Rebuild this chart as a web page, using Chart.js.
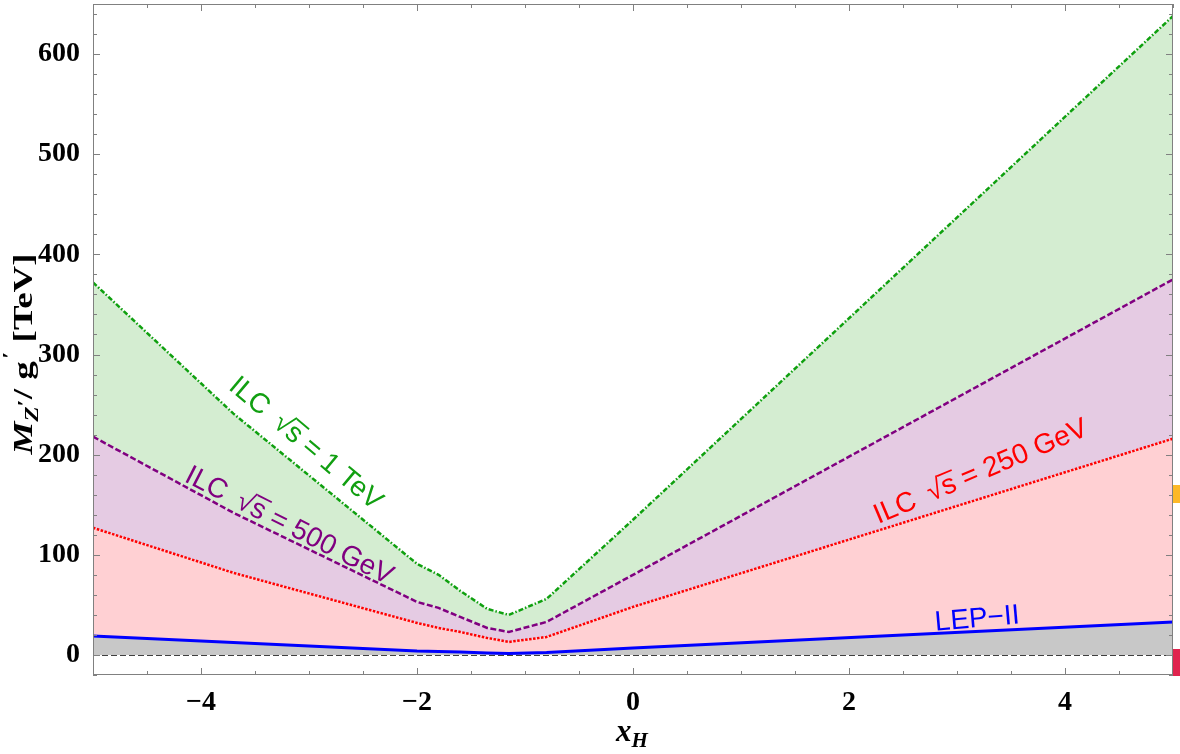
<!DOCTYPE html>
<html><head><meta charset="utf-8">
<script src="https://cdn.jsdelivr.net/npm/chart.js@4.4.1/dist/chart.umd.min.js"></script>
<style>
html,body{margin:0;padding:0;background:#fff;overflow:hidden}
#wrap{position:relative;width:1180px;height:754px}
canvas{display:block}
.blk{position:absolute;left:1173px;width:7px}
</style></head><body>
<div id="wrap"><canvas id="c" width="1180" height="754"></canvas>
<div class="blk" style="top:485px;height:18px;background:#FDB827"></div>
<div class="blk" style="top:649px;height:27px;background:#E0234E"></div>
</div>
<script>
// ---- data ----
const xH        = [-5,  -3.7, -2.0, -1.8, -1.6, -1.35, -1.15, -0.8, 0,   5];
const ilc1TeV   = [372, 241,  91,   80,   64,   46,    40,    56,   135, 638];
const ilc500GeV = [218, 142,  53,   47,   38,   27,    23,    33,   80,  375];
const ilc250GeV = [127, 82,   32,   27,   23,   17,    13,    18,   48,  216];
const lepII     = [19,  12.5, 4,    3.5,  3,    2,     1.5,   2.5,  7,   33];
const zeroX     = [-5, 5];
const zeroY     = [0, 0];
const xTickLabels = [-4, -2, 0, 2, 4];
const yTickLabels = [0, 100, 200, 300, 400, 500, 600];

const pts = (xs, ys) => xs.map((x, i) => ({x, y: ys[i]}));
const fmt = v => (v < 0 ? '\u2212' + Math.abs(v) : String(v));

function sqrtLabel(ctx, cx, cy, ang, color, pre, post, fs) {
  ctx.save();
  ctx.translate(cx, cy); ctx.rotate(ang * Math.PI / 180);
  ctx.font = fs + 'px "Liberation Sans"';
  ctx.fillStyle = color; ctx.strokeStyle = color;
  ctx.textAlign = 'left'; ctx.textBaseline = 'alphabetic';
  const gap = fs * 0.5;
  const wPre = ctx.measureText(pre).width;
  const mR = ctx.measureText('\u221A');
  const wRad = mR.width;
  const wS = ctx.measureText('s').width;
  const wPost = ctx.measureText(post).width;
  const total = wPre + gap + wRad + wS + wPost;
  let x = -total / 2; const by = fs * 0.36;
  ctx.fillText(pre, x, by); x += wPre + gap;
  ctx.fillText('\u221A', x, by);
  const top = by - mR.actualBoundingBoxAscent + fs * 0.03;
  ctx.fillText('s', x + wRad, by);
  ctx.lineWidth = fs * 0.065;
  ctx.beginPath();
  ctx.moveTo(x + mR.actualBoundingBoxRight - fs * 0.03, top);
  ctx.lineTo(x + wRad + wS + fs * 0.06, top);
  ctx.stroke();
  x += wRad + wS;
  ctx.fillText(post, x, by);
  ctx.restore();
}
function plainLabel(ctx, cx, cy, ang, color, txt, fs) {
  ctx.save();
  ctx.translate(cx, cy); ctx.rotate(ang * Math.PI / 180);
  ctx.font = fs + 'px "Liberation Sans"';
  ctx.fillStyle = color; ctx.textAlign = 'center'; ctx.textBaseline = 'alphabetic';
  ctx.fillText(txt, 0, fs * 0.36);
  ctx.restore();
}
function richText(ctx, parts, cx, cy, rot, stretch) {
  ctx.save();
  ctx.translate(cx, cy); if (rot) ctx.rotate(rot);
  ctx.scale(stretch || 1, 1);
  ctx.fillStyle = '#000'; ctx.textAlign = 'left'; ctx.textBaseline = 'alphabetic';
  let w = 0;
  parts.forEach(p => { ctx.font = p.f; p.w = ctx.measureText(p.t).width + (p.sp || 0); w += p.w; });
  let x = -w / 2;
  parts.forEach(p => { ctx.font = p.f; ctx.fillText(p.t, x, p.dy); x += p.w; });
  ctx.restore();
}

const decor = {
  id: 'decor',
  afterDatasetsDraw(chart) {
    const ctx = chart.ctx;
    sqrtLabel(ctx, 307, 442, 40, '#119f11', 'ILC', ' = 1 TeV', 28);
    sqrtLabel(ctx, 290, 524, 27, '#800080', 'ILC', ' = 500 GeV', 28);
    sqrtLabel(ctx, 980, 470, -23, '#ff0000', 'ILC', ' = 250 GeV', 28);
    plainLabel(ctx, 977, 617, -5, '#0000ff', 'LEP\u2212II', 28);
  },
  afterDraw(chart) {
    const ctx = chart.ctx, a = chart.chartArea;
    const xs = chart.scales.x, ys = chart.scales.y;
    ctx.save();
    ctx.strokeStyle = '#808080'; ctx.lineWidth = 1;
    ctx.strokeRect(a.left + 0.5, a.top + 0.5, a.right - a.left - 1, a.bottom - a.top - 1);
    ctx.beginPath();
    for (let v = -20; v <= 640; v += 20) {
      const p = Math.round(ys.getPixelForValue(v)) + 0.5;
      const L = (v % 100 === 0) ? 7 : 4;
      ctx.moveTo(a.left, p); ctx.lineTo(a.left + L, p);
      ctx.moveTo(a.right, p); ctx.lineTo(a.right - L, p);
    }
    for (let v = -5; v <= 5; v += 0.5) {
      const p = Math.round(xs.getPixelForValue(v)) + 0.5;
      const L = (Math.abs(v % 2) === 0) ? 7 : 4;
      ctx.moveTo(p, a.bottom); ctx.lineTo(p, a.bottom - L);
      ctx.moveTo(p, a.top); ctx.lineTo(p, a.top + L);
    }
    ctx.stroke();
    ctx.restore();
    // axis titles
    const B = 28, S = 19, SF = '"Liberation Serif"';
    richText(ctx, [
      {t: 'M', f: 'italic bold ' + B + 'px ' + SF, dy: 0},
      {t: 'Z', f: 'italic bold ' + S + 'px ' + SF, dy: 6},
      {t: '\u2032', f: 'bold ' + S + 'px ' + SF, dy: -1},
      {t: '/ ', f: 'bold ' + B + 'px ' + SF, dy: 0},
      {t: 'g', f: 'bold ' + B + 'px ' + SF, dy: 0, sp: 2},
      {t: '\u2032', f: 'bold ' + S + 'px ' + SF, dy: -16},
      {t: ' [TeV]', f: 'bold ' + B + 'px ' + SF, dy: 0}
    ], 32, 354, -Math.PI / 2, 1.32);
    richText(ctx, [
      {t: 'x', f: 'italic bold 31px ' + SF, dy: 0},
      {t: 'H', f: 'italic bold 21px ' + SF, dy: 6}
    ], 632, 741, 0, 1);
  }
};

new Chart(document.getElementById('c'), {
  type: 'line',
  data: {
    datasets: [
      {label: 'LEP-II', data: pts(xH, lepII), borderColor: '#0000ff', borderWidth: 3,
       backgroundColor: '#c8c8c8', fill: {value: 0}},
      {label: 'ILC 250 GeV', data: pts(xH, ilc250GeV), borderColor: '#ff0000', borderWidth: 2.5,
       borderDash: [2.5, 1.5], backgroundColor: '#ffd0d3', fill: '-1'},
      {label: 'ILC 500 GeV', data: pts(xH, ilc500GeV), borderColor: '#800080', borderWidth: 2.5,
       borderDash: [6, 2.5], backgroundColor: '#e5cbe3', fill: '-1'},
      {label: 'ILC 1 TeV', data: pts(xH, ilc1TeV), borderColor: '#0fa00f', borderWidth: 2.5,
       borderDash: [5, 2, 1.5, 2], backgroundColor: '#d4edd1', fill: '-1'},
      {label: 'zero', data: pts(zeroX, zeroY), borderColor: '#000', borderWidth: 1.5,
       borderDash: [6, 3], fill: false}
    ]
  },
  options: {
    responsive: false, animation: false, devicePixelRatio: 1,
    layout: {padding: {top: 4, right: 7, left: 0, bottom: 0}},
    elements: {point: {radius: 0}, line: {tension: 0, borderCapStyle: 'butt'}},
    plugins: {legend: {display: false}, tooltip: {enabled: false}},
    scales: {
      x: {type: 'linear', min: -5, max: 5,
          grid: {display: false}, border: {display: false},
          afterFit: s => { s.height = 79; s.paddingLeft = 0; s.paddingRight = 0; },
          ticks: {stepSize: 0.5, autoSkip: false, maxRotation: 0, padding: 3, color: '#000',
                  font: {family: 'Liberation Serif', weight: 'bold', size: 28},
                  callback: v => xTickLabels.includes(v) ? fmt(v) : ''}},
      y: {type: 'linear', min: -20, max: 650,
          grid: {display: false}, border: {display: false},
          afterFit: s => { s.width = 93; s.paddingTop = 0; s.paddingBottom = 0; },
          ticks: {stepSize: 20, autoSkip: false, padding: 5, color: '#000',
                  font: {family: 'Liberation Serif', weight: 'bold', size: 28},
                  callback: v => yTickLabels.includes(v) ? fmt(v) : ''}}
    }
  },
  plugins: [decor]
});
</script>
</body></html>
